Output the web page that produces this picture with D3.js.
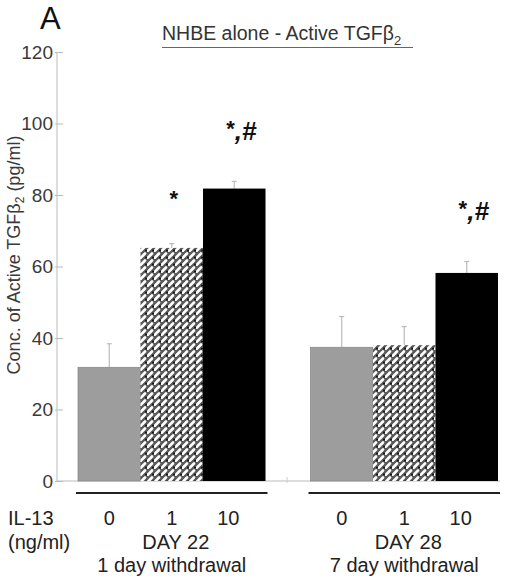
<!DOCTYPE html>
<html>
<head>
<meta charset="utf-8">
<script src="https://cdn.jsdelivr.net/npm/d3@7"></script>
<style>
  body { margin: 0; background: #fff; }
  svg { display: block; font-family: "Liberation Sans", Arial, sans-serif; }
</style>
</head>
<body>
<svg width="505" height="581"></svg>
<script>
// данные графика
const groups = ["DAY 22", "DAY 28"];
const groupNotes = ["1 day withdrawal", "7 day withdrawal"];
const doses = ["0", "1", "10"];
const values22 = [31.8, 65.2, 81.8];
const values28 = [37.4, 38.0, 58.2];
const errors22 = [6.6, 1.2, 2.0];
const errors28 = [8.6, 5.2, 3.2];
const marks22 = ["", "*", "*,#"];
const marks28 = ["", "", "*,#"];
const yTicks = [0, 20, 40, 60, 80, 100, 120];

const svg = d3.select("svg");

const y = d3.scaleLinear().domain([0, 120]).range([481, 52]);

const xGroup = d3.scaleBand().domain(groups).range([78, 498]).paddingInner(0.1935);
const xDose = d3.scaleBand().domain(doses).range([0, xGroup.bandwidth()]);

// штриховка для средней колонки
const defs = svg.append("defs");
const pat = defs.append("pattern")
    .attr("id", "hatch")
    .attr("patternUnits", "userSpaceOnUse")
    .attr("width", 7)
    .attr("height", 7);
pat.append("rect").attr("width", 7).attr("height", 7).attr("fill", "#5a5a5a");
pat.append("path").attr("d", "M0.5,6 L5,1.5").attr("stroke", "#fff").attr("stroke-width", 2.6).attr("stroke-linecap", "round");
pat.append("circle").attr("cx", 6).attr("cy", 5.5).attr("r", 1).attr("fill", "#111");

const fills = ["#9d9d9d", "url(#hatch)", "#000"];

const rows = [];
groups.forEach((g, gi) => {
    const vals = gi === 0 ? values22 : values28;
    const errs = gi === 0 ? errors22 : errors28;
    const marks = gi === 0 ? marks22 : marks28;
    doses.forEach((d, di) => {
        rows.push({ group: g, dose: d, i: di, value: vals[di], err: errs[di], mark: marks[di] });
    });
});

const xOf = d => xGroup(d.group) + xDose(d.dose);

// ось Y
const yAxis = svg.append("g")
    .attr("transform", "translate(57,0)")
    .call(d3.axisLeft(y).tickValues(yTicks).tickSize(-6).tickPadding(4));
yAxis.select(".domain").attr("stroke", "#bbb").attr("d", "M0,481V52");
yAxis.selectAll(".tick line").attr("stroke", "#bbb").attr("x1", -2);
yAxis.selectAll(".tick text")
    .attr("fill", "#3a3a3a")
    .attr("font-size", 19)
    .attr("font-family", "Liberation Sans, Arial, sans-serif");

// базовая линия
svg.append("line")
    .attr("x1", 57).attr("x2", 500)
    .attr("y1", y(0)).attr("y2", y(0))
    .attr("stroke", "#bbb");
svg.append("line")
    .attr("x1", 287).attr("x2", 287)
    .attr("y1", y(0) - 4).attr("y2", y(0) + 2)
    .attr("stroke", "#ccc");

// погрешности
const eb = svg.append("g").attr("stroke", "#bbb").attr("stroke-width", 1.2);
rows.forEach(d => {
    const cx = xOf(d) + xDose.bandwidth() / 2;
    eb.append("line").attr("x1", cx).attr("x2", cx).attr("y1", y(d.value)).attr("y2", y(d.value + d.err));
    eb.append("line").attr("x1", cx - 2.5).attr("x2", cx + 2.5).attr("y1", y(d.value + d.err)).attr("y2", y(d.value + d.err));
});

// столбцы
svg.append("g").selectAll("rect")
    .data(rows)
    .join("rect")
    .attr("x", d => xOf(d))
    .attr("width", xDose.bandwidth())
    .attr("y", d => y(d.value))
    .attr("height", d => y(0) - y(d.value))
    .attr("fill", d => fills[d.i])
    .attr("stroke", d => d.i === 0 ? "#8a8a8a" : "none")
    .attr("stroke-width", 0.8);

// звездочки
const ann = svg.append("g").attr("fill", "#111").attr("font-weight", "bold");
rows.filter(d => d.mark).forEach(d => {
    const cx = xOf(d) + xDose.bandwidth() / 2;
    const t = ann.append("text")
        .attr("y", y(d.value + d.err) - 41)
        .attr("text-anchor", "middle");
    if (d.mark === "*") {
        t.attr("x", cx + 2).append("tspan").attr("font-size", 22).attr("dy", 3).text("*");
    } else {
        t.attr("x", cx + 7);
        t.append("tspan").attr("font-size", 22).attr("dy", -4).text("*");
        t.append("tspan").attr("font-size", 26).attr("font-style", "italic").attr("dy", 4).text(",#");
    }
});

// линии групп
svg.append("g").selectAll("line")
    .data(groups)
    .join("line")
    .attr("x1", g => xGroup(g) - 2)
    .attr("x2", g => xGroup(g) + xGroup.bandwidth() + 2)
    .attr("y1", 493).attr("y2", 493)
    .attr("stroke", "#222").attr("stroke-width", 2.2);

// подписи снизу
const lab = svg.append("g").attr("fill", "#222").attr("font-size", 20);
lab.append("text").attr("x", 8).attr("y", 525).text("IL-13");
lab.append("text").attr("x", 8).attr("y", 549).text("(ng/ml)");

lab.selectAll(".dose")
    .data(rows)
    .join("text")
    .attr("class", "dose")
    .attr("x", d => xOf(d) + xDose.bandwidth() / 2 - (d.i === 2 ? 6 : 0))
    .attr("y", 525)
    .attr("text-anchor", "middle")
    .text(d => d.dose);

groups.forEach((g, gi) => {
    const cx = xGroup(g) + xGroup.bandwidth() / 2;
    lab.append("text").attr("x", cx + 4).attr("y", 549).attr("text-anchor", "middle").text(g);
    lab.append("text").attr("x", cx).attr("y", 572).attr("text-anchor", "middle").text(groupNotes[gi]);
});

// подпись оси Y
const yl = svg.append("text")
    .attr("transform", "translate(20,255) rotate(-90)")
    .attr("text-anchor", "middle")
    .attr("font-size", 18)
    .attr("fill", "#3a3a3a");
yl.append("tspan").text("Conc. of Active TGFβ");
yl.append("tspan").attr("font-size", 12).attr("dy", 4).text("2");
yl.append("tspan").attr("dy", -4).text(" (pg/ml)");

// заголовок
const title = svg.append("text")
    .attr("x", 162).attr("y", 40)
    .attr("font-size", 19.5)
    .attr("fill", "#333");
title.append("tspan").text("NHBE alone - Active TGFβ");
title.append("tspan").attr("font-size", 13).attr("dy", 5).text("2");
svg.append("line")
    .attr("x1", 162).attr("x2", 413)
    .attr("y1", 47.5).attr("y2", 47.5)
    .attr("stroke", "#666").attr("stroke-width", 1.2);

svg.append("text")
    .attr("x", 40).attr("y", 29)
    .attr("font-size", 31)
    .attr("fill", "#111")
    .text("A");
</script>
</body>
</html>
